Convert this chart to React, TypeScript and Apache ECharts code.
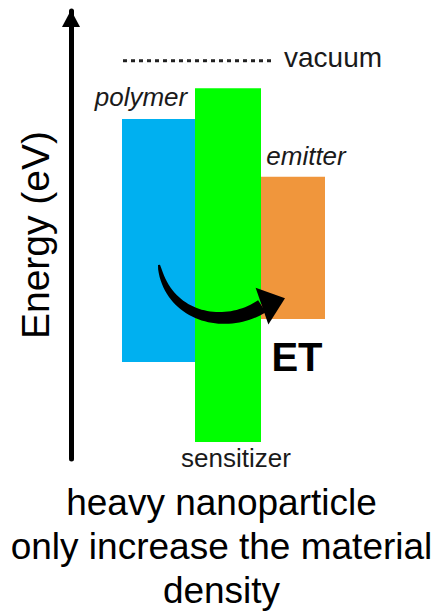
import React, { useEffect, useRef } from "react";
import * as echarts from "echarts";

// Energy-level diagram data (arbitrary energy units, vacuum = 0)
const materials = ["polymer", "sensitizer", "emitter"];
const levelStart = [1.02, 2.48, 3.8]; // horizontal start of each band (diagram units)
const levelWidth = [1.46, 1.32, 1.28];
const levelTop = [-1.17, -0.55, -2.33]; // upper level
const levelBottom = [-6.05, -7.66, -5.19]; // lower level
const levelColors = ["#00B0F0", "#00FF00", "#F0963C"];

const vacuumLevel = 0;
const vacuumX = [1.04, 4.04];

// energy-transfer (ET) arrow: cubic curve control points + tip
const etCurveX = [1.76, 1.94, 3.08, 3.82];
const etCurveY = [-4.1, -5.17, -5.41, -4.93];
const etTip = [4.28, -4.77];

const captionLines = ["heavy nanoparticle", "only increase the material", "density"];

const FONT = "'Liberation Sans', Arial, Helvetica, sans-serif";

export default function App() {
  const ref = useRef<HTMLDivElement>(null);
  useEffect(() => {
    if (!ref.current) return;
    const chart = echarts.init(ref.current, undefined, { renderer: "svg" });

    const barData = materials.map((m, i) => [
      levelStart[i],
      levelStart[i] + levelWidth[i],
      levelTop[i],
      levelBottom[i],
    ]);

    const option: any = {
      animation: false,
      backgroundColor: "#ffffff",
      title: {
        text: captionLines.join("\n"),
        left: "center",
        top: 475,
        padding: [5, 0, 5, 7],
        textStyle: {
          fontFamily: FONT,
          fontSize: 37,
          fontWeight: "normal",
          lineHeight: 44,
          color: "#000",
        },
      },
      grid: { left: 71, top: 11, width: 350, height: 448 },
      xAxis: {
        type: "value",
        min: 0,
        max: 7,
        show: false,
      },
      yAxis: {
        type: "value",
        min: -8,
        max: 1,
        name: "Energy (eV)",
        nameLocation: "middle",
        nameRotate: 90,
        nameGap: 16,
        nameTextStyle: { fontFamily: FONT, fontSize: 39, color: "#000" },
        axisLine: {
          show: true,
          symbol: ["none", "triangle"],
          symbolSize: [18, 17],
          symbolOffset: [0, -7.5],
          lineStyle: { color: "#000", width: 5 },
        },
        axisTick: { show: false },
        axisLabel: { show: false },
        splitLine: { show: false },
      },
      series: [
        {
          type: "custom",
          name: "levels",
          coordinateSystem: "cartesian2d",
          encode: { x: [0, 1], y: [2, 3] },
          data: barData,
          renderItem: (params: any, api: any) => {
            const p0 = api.coord([api.value(0), api.value(2)]);
            const p1 = api.coord([api.value(1), api.value(3)]);
            return {
              type: "rect",
              shape: { x: p0[0], y: p0[1], width: p1[0] - p0[0], height: p1[1] - p0[1] },
              style: { fill: levelColors[params.dataIndex] },
            };
          },
        },
        {
          type: "line",
          name: "vacuum",
          data: vacuumX.map((x) => [x, vacuumLevel]),
          symbol: "none",
          lineStyle: { color: "#222", width: 3, type: [4, 4] },
          z: 3,
        },
        {
          type: "custom",
          name: "ET",
          coordinateSystem: "cartesian2d",
          encode: { x: 0, y: 1 },
          data: [[etCurveX[0], etCurveY[0]]],
          z: 5,
          renderItem: (params: any, api: any) => {
            const P = etCurveX.map((x, i) => api.coord([x, etCurveY[i]]));
            const N = 40;
            const left: number[][] = [];
            const right: number[][] = [];
            for (let i = 0; i <= N; i++) {
              const t = i / N;
              const u = 1 - t;
              const x =
                u * u * u * P[0][0] + 3 * u * u * t * P[1][0] + 3 * u * t * t * P[2][0] + t * t * t * P[3][0];
              const y =
                u * u * u * P[0][1] + 3 * u * u * t * P[1][1] + 3 * u * t * t * P[2][1] + t * t * t * P[3][1];
              const dx =
                3 * u * u * (P[1][0] - P[0][0]) + 6 * u * t * (P[2][0] - P[1][0]) + 3 * t * t * (P[3][0] - P[2][0]);
              const dy =
                3 * u * u * (P[1][1] - P[0][1]) + 6 * u * t * (P[2][1] - P[1][1]) + 3 * t * t * (P[3][1] - P[2][1]);
              const len = Math.hypot(dx, dy) || 1;
              const nx = -dy / len;
              const ny = dx / len;
              const w = 1 + 6.2 * Math.pow(t, 0.6);
              left.push([x + nx * w, y + ny * w]);
              right.push([x - nx * w, y - ny * w]);
            }
            const tip = api.coord(etTip);
            const base = P[3];
            const ddx = tip[0] - base[0];
            const ddy = tip[1] - base[1];
            const dl = Math.hypot(ddx, ddy) || 1;
            const hx = -ddy / dl;
            const hy = ddx / dl;
            const hw = 19.5;
            return {
              type: "group",
              children: [
                {
                  type: "polygon",
                  shape: { points: left.concat(right.reverse()) },
                  style: { fill: "#000" },
                },
                {
                  type: "polygon",
                  shape: {
                    points: [
                      [base[0] + hx * hw, base[1] + hy * hw],
                      tip,
                      [base[0] - hx * hw, base[1] - hy * hw],
                    ],
                  },
                  style: { fill: "#000" },
                },
              ],
            };
          },
        },
      ],
      graphic: [
        {
          type: "text",
          x: 141,
          y: 97,
          style: {
            text: "polymer",
            fontFamily: FONT,
            fontSize: 26,
            fontStyle: "italic",
            fill: "#1a1a1a",
            align: "center",
            verticalAlign: "middle",
          },
        },
        {
          type: "text",
          x: 306,
          y: 156,
          style: {
            text: "emitter",
            fontFamily: FONT,
            fontSize: 26,
            fontStyle: "italic",
            fill: "#1a1a1a",
            align: "center",
            verticalAlign: "middle",
          },
        },
        {
          type: "text",
          x: 236,
          y: 458,
          style: {
            text: "sensitizer",
            fontFamily: FONT,
            fontSize: 26,
            fill: "#1a1a1a",
            align: "center",
            verticalAlign: "middle",
          },
        },
        {
          type: "text",
          x: 284,
          y: 57,
          style: {
            text: "vacuum",
            fontFamily: FONT,
            fontSize: 28,
            fill: "#1a1a1a",
            align: "left",
            verticalAlign: "middle",
          },
        },
        {
          type: "text",
          x: 297,
          y: 357,
          style: {
            text: "ET",
            fontFamily: FONT,
            fontSize: 40,
            fontWeight: "bold",
            fill: "#000",
            align: "center",
            verticalAlign: "middle",
          },
        },
      ],
    };

    chart.setOption(option);
    return () => chart.dispose();
  }, []);

  return <div ref={ref} style={{ width: 443, height: 612, position: "absolute", left: 0, top: 0 }} />;
}
